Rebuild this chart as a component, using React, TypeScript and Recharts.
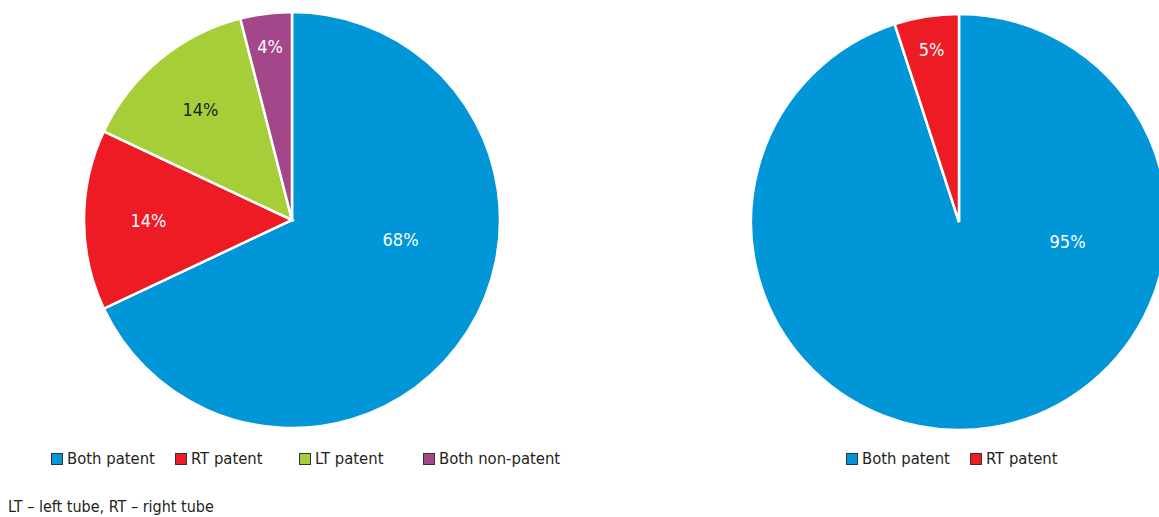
import { Cell, Legend, Pie, PieChart } from "recharts";

const LEFT_NAMES = ["Both patent", "RT patent", "LT patent", "Both non-patent"];
const LEFT_VALUES = [68, 14, 14, 4];

const RIGHT_NAMES = ["Both patent", "RT patent"];
const RIGHT_VALUES = [95, 5];

const COLORS = ["#0096d8", "#ed1c24", "#a6ce39", "#a4478a"];
const LABEL_COLORS = ["#ffffff", "#ffffff", "#231f20", "#ffffff"];

const FONT = "'Liberation Sans Narrow', 'DejaVu Sans Condensed', 'Roboto Condensed', sans-serif";
const RAD = Math.PI / 180;

type Slice = { name: string; value: number };

function buildSlices(names: string[], values: number[]): Slice[] {
  return names.map((name, i) => ({ name, value: values[i] }));
}

// Excel-like "best fit": big slice label sits right of centre, thin slices near the rim.
function renderLabel(props: any) {
  const { cx, cy, midAngle, outerRadius, percent, index, value } = props;
  let angle = midAngle;
  let r = outerRadius * 0.69;
  if (percent > 0.5) {
    angle = -10;
    r = outerRadius * 0.53;
  } else if (percent < 0.08) {
    r = outerRadius * 0.84;
  }
  const x = cx + r * Math.cos(-angle * RAD);
  const y = cy + r * Math.sin(-angle * RAD);
  return (
    <text
      x={x}
      y={y}
      fill={LABEL_COLORS[index]}
      textAnchor="middle"
      dominantBaseline="central"
      fontFamily={FONT}
      fontSize={18}
    >
      {`${value}%`}
    </text>
  );
}

// Legend drawn from our own names so the order stays as in the source.
function makeLegend(names: string[]) {
  return function LegendContent() {
    return (
      <div style={{ display: "flex", fontFamily: FONT, fontSize: 16.5, color: "#231f20" }}>
        {names.map((name, i) => (
          <div
            key={name}
            style={{ width: 124, flexShrink: 0, display: "flex", alignItems: "center", whiteSpace: "nowrap" }}
          >
            <span
              style={{
                width: 10,
                height: 10,
                background: COLORS[i],
                border: "1px solid #333",
                marginRight: 4,
                flexShrink: 0,
                display: "inline-block"
              }}
            />
            <span>{name}</span>
          </div>
        ))}
      </div>
    );
  };
}

type PatencyPieProps = {
  data: Slice[];
  width: number;
  cx: number;
  cy: number;
  legendLeft: number;
};

function PatencyPie({ data, width, cx, cy, legendLeft }: PatencyPieProps) {
  const LegendContent = makeLegend(data.map((d) => d.name));
  return (
    <PieChart width={width} height={480} margin={{ top: 0, right: 0, bottom: 0, left: 0 }}>
      <Pie
        data={data}
        dataKey="value"
        nameKey="name"
        cx={cx}
        cy={cy}
        outerRadius={208}
        startAngle={90}
        endAngle={-270}
        stroke="#ffffff"
        strokeWidth={2.5}
        label={renderLabel}
        labelLine={false}
        isAnimationActive={false}
      >
        {data.map((entry, i) => (
          <Cell key={entry.name} fill={COLORS[i]} />
        ))}
      </Pie>
      <Legend
        content={<LegendContent />}
        wrapperStyle={{ position: "absolute", left: legendLeft, top: 449, width: "auto" }}
      />
    </PieChart>
  );
}

export default function App() {
  const left = buildSlices(LEFT_NAMES, LEFT_VALUES);
  const right = buildSlices(RIGHT_NAMES, RIGHT_VALUES);

  return (
    <div
      style={{
        position: "absolute",
        left: 0,
        top: 0,
        width: 1159,
        height: 517,
        overflow: "hidden",
        background: "#ffffff"
      }}
    >
      <div style={{ position: "absolute", left: 0, top: 0 }}>
        <PatencyPie data={left} width={584} cx={292} cy={220} legendLeft={51} />
      </div>
      <div style={{ position: "absolute", left: 584, top: 0 }}>
        <PatencyPie data={right} width={575} cx={375} cy={222} legendLeft={262} />
      </div>
      <div
        style={{
          position: "absolute",
          left: 8,
          top: 497,
          fontFamily: FONT,
          fontSize: 16,
          color: "#231f20",
          whiteSpace: "nowrap"
        }}
      >
        LT – left tube, RT – right tube
      </div>
    </div>
  );
}
